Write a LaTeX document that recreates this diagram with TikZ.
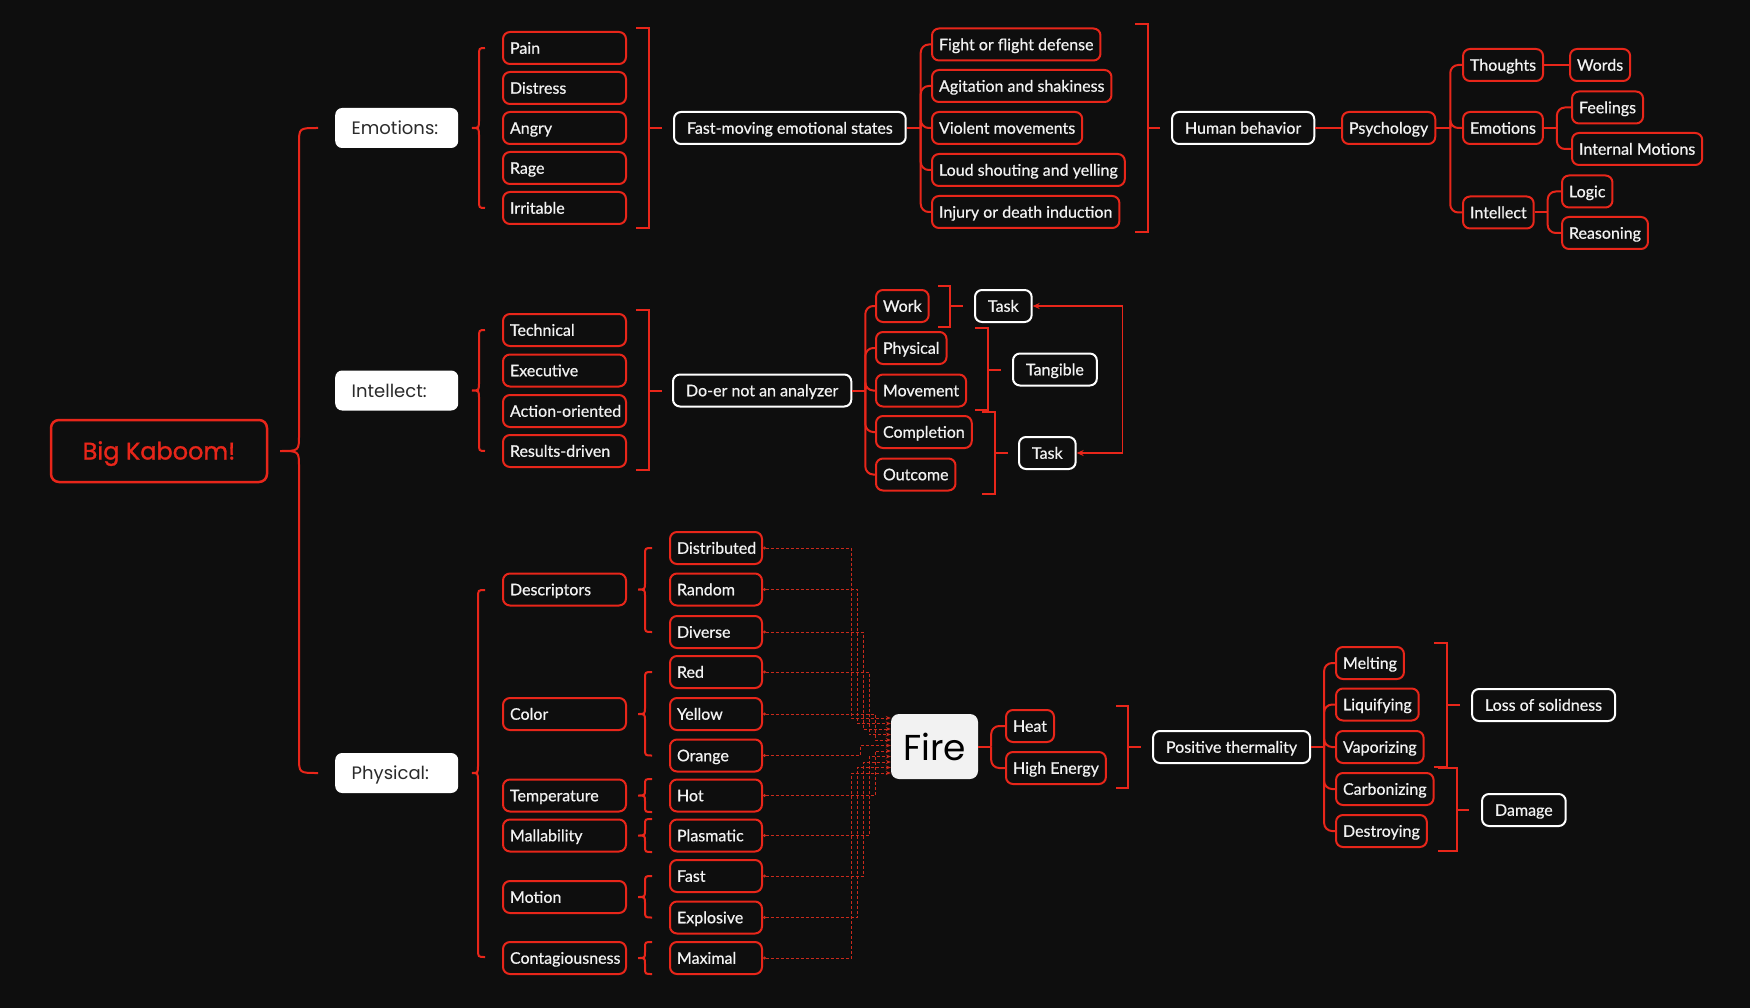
\documentclass[tikz,border=0pt]{standalone}
\usepackage{fontspec}
\setmainfont{Lato}[FakeBold=0.6]
\newfontfamily\popfont{Poppins}
\newfontfamily\popbold{Poppins}[FakeBold=1.2]
\usetikzlibrary{calc,arrows.meta}
\definecolor{bg}{HTML}{0E0E0E}
\definecolor{kred}{HTML}{E8261A}
\definecolor{dred}{HTML}{C92A1C}
\definecolor{txt}{HTML}{F2F2F2}
\definecolor{dark}{HTML}{2B2B2B}
\definecolor{firebg}{HTML}{F2F2F2}
\tikzset{
  redline/.style={draw=kred, line width=2pt},
  rb/.style={draw=kred, line width=2pt, rounded corners=7pt, fill=bg, text=txt,
    font=\fontsize{16}{18}\selectfont, inner xsep=7pt, inner ysep=0pt,
    minimum height=32pt, text height=11.5pt, text depth=0pt, anchor=west},
  fixed/.style={text width=#1, align=left},
  wb/.style={rb, draw=white, inner xsep=13pt},
  headbox/.style={fill=white, draw=none, rounded corners=7pt, text=dark,
    font=\popfont\fontsize{18}{20}\selectfont, minimum height=40pt, text width=90pt,
    inner xsep=16.5pt, inner ysep=0pt, align=left, anchor=west, text height=13pt, text depth=0pt},
  fdash/.style={draw=dred, line width=1pt, dash pattern=on 3pt off 2pt,
    {Circle[length=3pt]}-{Stealth[length=5pt,width=4pt]}},
}
\newcommand\cbr[7]{% tipx tipy vertx endx topy boty r
  \draw[redline] (#4,#5) .. controls (#3,#5) .. (#3,#5+#7) -- (#3,#2-#7) .. controls (#3,#2) .. (#1,#2) .. controls (#3,#2) .. (#3,#2+#7) -- (#3,#6-#7) .. controls (#3,#6) .. (#4,#6);}
\newcommand\sqb[6]{% leftx vertx midx topy boty midy
  \draw[redline] (#1,#4) -- (#2,#4) -- (#2,#5) -- (#1,#5);
  \draw[redline] (#2,#6) -- (#3,#6);}
\newcommand\treebr[3]{% parent dx children
  \draw[redline] (#1.east) -- ++(#2,0) coordinate (#1T);
  \foreach \ch in {#3} \draw[redline, rounded corners=8pt] (#1T) |- (\ch.west);}
\begin{document}
\begin{tikzpicture}[x=1pt, y=-1pt]
\fill[bg] (0,0) rectangle (1750,1008);
\useasboundingbox (0,0) rectangle (1750,1008);

% root
\node[draw=kred, line width=2.5pt, rounded corners=8pt, minimum width=216pt, minimum height=62pt,
  text=kred, font=\popbold\fontsize{24}{28}\selectfont, fill=bg, text height=17pt, text depth=0pt,
  inner ysep=0pt] (bk) at (159,451) {Big Kaboom!};

% headings
\node[headbox] (hemo) at (335,128) {Emotions:};
\node[headbox] (hint) at (335,390.5) {Intellect:};
\node[headbox] (hphy) at (335,773) {Physical:};

% emotions column
\node[rb, fixed=109pt] (pain) at (502,48) {Pain};
\node[rb, fixed=109pt] (distress) at (502,88) {Distress};
\node[rb, fixed=109pt] (angry) at (502,128) {Angry};
\node[rb, fixed=109pt] (rage) at (502,168) {Rage};
\node[rb, fixed=109pt] (irritable) at (502,208) {Irritable};

% intellect column
\node[rb, fixed=109pt] (technical) at (502,330) {Technical};
\node[rb, fixed=109pt] (executive) at (502,370.5) {Executive};
\node[rb, fixed=109pt] (action) at (502,411) {\mbox{Action-oriented}};
\node[rb, fixed=109pt] (results) at (502,451) {\mbox{Results-driven}};

% physical column
\node[rb, fixed=109pt] (descriptors) at (502,589.5) {Descriptors};
\node[rb, fixed=109pt] (color) at (502,714) {Color};
\node[rb, fixed=109pt] (temperature) at (502,795.5) {Temperature};
\node[rb, fixed=109pt] (mallability) at (502,835.5) {Mallability};
\node[rb, fixed=109pt] (motion) at (502,897) {Motion};
\node[rb, fixed=109pt] (contag) at (502,958) {Contagiousness};

% values
\node[rb, fixed=78pt] (distributed) at (669,548) {Distributed};
\node[rb, fixed=78pt] (random) at (669,589.5) {Random};
\node[rb, fixed=78pt] (diverse) at (669,632) {Diverse};
\node[rb, fixed=78pt] (red) at (669,672) {Red};
\node[rb, fixed=78pt] (yellow) at (669,714) {Yellow};
\node[rb, fixed=78pt] (orange) at (669,755.5) {Orange};
\node[rb, fixed=78pt] (hot) at (669,795.5) {Hot};
\node[rb, fixed=78pt] (plasmatic) at (669,835.5) {Plasmatic};
\node[rb, fixed=78pt] (fast) at (669,876) {Fast};
\node[rb, fixed=78pt] (explosive) at (669,917.5) {Explosive};
\node[rb, fixed=78pt] (maximal) at (669,958) {Maximal};

% emotions branch
\node[wb] (fm) at (673,128) {Fast-moving emotional states};
\node[rb] (fight) at (931,44.5) {Fight or flight defense};
\node[rb] (agit) at (931,86) {Agitation and shakiness};
\node[rb] (violent) at (931,128) {Violent movements};
\node[rb] (loud) at (931,170) {Loud shouting and yelling};
\node[rb] (injury) at (931,212) {Injury or death induction};
\node[wb] (hbeh) at (1171,128) {Human behavior};
\node[rb] (psy) at (1341,128) {Psychology};
\node[rb] (thoughts) at (1462,65) {Thoughts};
\node[rb] (emo2) at (1462,128) {Emotions};
\node[rb] (int2) at (1462,212.5) {Intellect};
\node[rb] (words) at (1569,65) {Words};
\node[rb] (feel) at (1571,107.5) {Feelings};
\node[rb] (intm) at (1571,149) {Internal Motions};
\node[rb] (logic) at (1561,191.5) {Logic};
\node[rb] (reason) at (1561,233) {Reasoning};

% intellect branch
\node[wb] (doer) at (672,390.5) {Do-er not an analyzer};
\node[rb] (work) at (875,306) {Work};
\node[rb] (phys2) at (875,348) {Physical};
\node[rb] (move) at (875,390.5) {Movement};
\node[rb] (compl) at (875,432) {Completion};
\node[rb] (outc) at (875,474.5) {Outcome};
\node[wb] (task1) at (974,306) {Task};
\node[wb] (tang) at (1012,369.5) {Tangible};
\node[wb] (task2) at (1018,453) {Task};

% physical branch
\node[fill=firebg, rounded corners=8pt, minimum width=87pt, minimum height=65pt, inner sep=0pt,
  font=\popfont\fontsize{36}{40}\selectfont, text=black] (fire) at (934.5,746.5) {Fire};
\node[rb] (heat) at (1005,726) {Heat};
\node[rb] (hien) at (1005,768) {High Energy};
\node[wb] (pt) at (1152,747) {Positive thermality};
\node[rb] (melt) at (1335,663) {Melting};
\node[rb] (liq) at (1335,704.5) {Liquifying};
\node[rb] (vap) at (1335,747) {Vaporizing};
\node[rb] (carb) at (1335,789) {Carbonizing};
\node[rb] (destr) at (1335,831) {Destroying};
\node[wb] (loss) at (1471,705) {Loss of solidness};
\node[wb] (dmg) at (1481,810) {Damage};

% braces
\cbr{280}{451}{299}{318}{128}{773}{16}
\cbr{472}{128}{479}{485}{48}{208}{8}
\cbr{472}{390.5}{479}{485}{330}{451}{8}
\cbr{472}{773}{478}{485}{590}{957}{8}
\cbr{638}{589.5}{645}{652}{548}{632}{7}
\cbr{638}{714}{645}{652}{672}{755.5}{7}
\cbr{638}{795.5}{645}{652}{779}{812}{6}
\cbr{638}{835.5}{645}{652}{819}{852}{6}
\cbr{638}{897}{645}{652}{876}{917.5}{7}
\cbr{638}{958}{645}{652}{942}{974}{6}

% square brackets
\sqb{636}{649}{662}{28}{228}{128}
\sqb{636}{649}{662}{310}{470}{390.5}
\sqb{1135}{1148}{1160}{24}{232}{128}
\sqb{938}{950}{963}{286}{327}{306}
\sqb{975}{988}{1001}{328}{410}{369.5}
\sqb{982}{995}{1008}{412}{494}{453}
\sqb{1116}{1128}{1141}{706}{788}{747}
\sqb{1434}{1447}{1460}{643}{767}{705}
\sqb{1438}{1457}{1469}{768}{851}{810}

% trees
\treebr{fm}{14}{fight,agit,violent,loud,injury}
\draw[redline] (hbeh.east) -- (psy.west);
\treebr{psy}{14}{thoughts,emo2,int2}
\draw[redline] (thoughts.east) -- (words.west);
\treebr{emo2}{13}{feel,intm}
\treebr{int2}{13}{logic,reason}
\treebr{doer}{13}{work,phys2,move,compl,outc}
\treebr{fire}{13}{heat,hien}
\treebr{pt}{13}{melt,liq,vap,carb,destr}

% task arrow
\draw[draw=kred, line width=1.6pt, {Stealth[length=7pt,width=6pt]}-{Stealth[length=7pt,width=6pt]}]
  (task1.east) -- ++(90,0) |- (task2.east);

% dashed connectors to Fire
\draw[fdash] (distributed.east) -- ++(88,0) |- ($(fire.west)+(0,-28.5)$);
\draw[fdash] (random.east) -- ++(94,0) |- ($(fire.west)+(0,-23)$);
\draw[fdash] (diverse.east) -- ++(100,0) |- ($(fire.west)+(0,-17.5)$);
\draw[fdash] (red.east) -- ++(106,0) |- ($(fire.west)+(0,-12)$);
\draw[fdash] (yellow.east) -- ++(112,0) |- ($(fire.west)+(0,-6.5)$);
\draw[fdash] (orange.east) -- ++(97,0) |- ($(fire.west)+(0,-1)$);
\draw[fdash] (hot.east) -- ++(112,0) |- ($(fire.west)+(0,4.5)$);
\draw[fdash] (plasmatic.east) -- ++(106,0) |- ($(fire.west)+(0,10)$);
\draw[fdash] (fast.east) -- ++(100,0) |- ($(fire.west)+(0,15.5)$);
\draw[fdash] (explosive.east) -- ++(94,0) |- ($(fire.west)+(0,21)$);
\draw[fdash] (maximal.east) -- ++(88,0) |- ($(fire.west)+(0,26.5)$);
\end{tikzpicture}
\end{document}
